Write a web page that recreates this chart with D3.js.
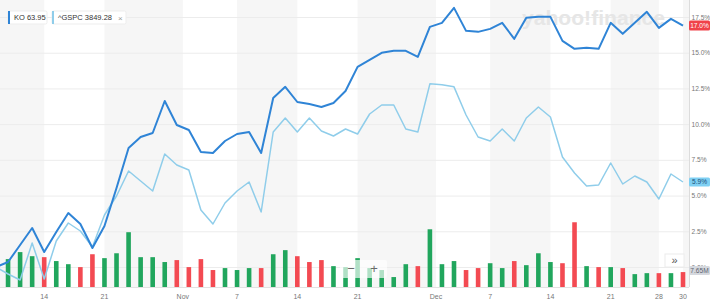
<!DOCTYPE html>
<html>
<head>
<meta charset="utf-8">
<script src="https://cdn.jsdelivr.net/npm/d3@7"></script>
<style>
  html, body { margin: 0; padding: 0; background: #ffffff; }
  #chart-div { width: 710px; height: 306px; }
  text { font-family: "Liberation Sans", Arial, sans-serif; }
</style>
</head>
<body>
<div id="chart-div"></div>
<script>
// Trading days shown (Oct 10 sits just off the left edge)
const dates = [
  "2022-10-10","2022-10-11","2022-10-12","2022-10-13","2022-10-14",
  "2022-10-17","2022-10-18","2022-10-19","2022-10-20","2022-10-21",
  "2022-10-24","2022-10-25","2022-10-26","2022-10-27","2022-10-28",
  "2022-10-31","2022-11-01","2022-11-02","2022-11-03","2022-11-04",
  "2022-11-07","2022-11-08","2022-11-09","2022-11-10","2022-11-11",
  "2022-11-14","2022-11-15","2022-11-16","2022-11-17","2022-11-18",
  "2022-11-21","2022-11-22","2022-11-23","2022-11-25","2022-11-28",
  "2022-11-29","2022-11-30","2022-12-01","2022-12-02","2022-12-05",
  "2022-12-06","2022-12-07","2022-12-08","2022-12-09","2022-12-12",
  "2022-12-13","2022-12-14","2022-12-15","2022-12-16","2022-12-19",
  "2022-12-20","2022-12-21","2022-12-22","2022-12-23","2022-12-27",
  "2022-12-28","2022-12-29","2022-12-30"
];

// % change since start
const koPct = [
  0.0, 0.35, 1.54, 2.73, 1.05, 2.45, 3.78, 3.01, 1.33, 2.87,
  5.53, 8.33, 9.10, 9.38, 11.62, 9.94, 9.59, 8.05, 7.98, 8.82,
  9.31, 9.45, 7.98, 11.83, 12.61, 11.55, 11.41, 11.20, 11.48, 12.32,
  14.01, 14.50, 14.99, 15.13, 15.13, 14.71, 16.81, 17.09, 18.14, 16.53,
  16.46, 16.67, 17.09, 15.97, 17.44, 17.51, 17.51, 15.83, 15.27, 15.34,
  15.27, 17.09, 16.32, 17.09, 17.86, 16.74, 17.37, 16.90
];
const spxPct = [
  0.0, -0.49, -0.91, 1.68, -0.84, 1.82, 3.08, 2.52, 1.40, 3.64,
  4.97, 6.72, 6.02, 5.32, 7.91, 7.14, 6.79, 3.99, 3.01, 4.48,
  5.32, 5.95, 3.85, 9.45, 10.43, 9.45, 10.43, 9.52, 9.17, 9.66,
  9.31, 10.71, 11.34, 11.34, 9.66, 9.45, 12.82, 12.75, 12.61, 10.64,
  9.10, 8.82, 9.66, 8.82, 10.43, 11.20, 10.50, 7.70, 6.58, 5.67,
  5.74, 7.28, 5.81, 6.37, 5.95, 4.76, 6.51, 5.95
];

// KO volume, millions
const koVolume = [
  14.0, 14.3, 17.9, 15.8, 15.3, 13.3, 11.7, 10.2, 16.8, 14.8,
  17.3, 28.1, 15.3, 15.3, 12.8, 13.8, 10.2, 14.3, 8.7, 9.7,
  8.7, 9.7, 9.7, 16.8, 18.9, 15.8, 12.8, 13.8, 10.7, 10.2,
  14.8, 9.7, 8.7, 5.1, 11.7, 10.7, 29.6, 11.7, 13.3, 8.7,
  9.7, 12.2, 9.7, 13.3, 11.2, 17.3, 12.8, 12.2, 33.2, 10.7,
  10.2, 10.2, 9.7, 6.6, 7.1, 7.1, 7.1, 7.65
];

const tickLabels = ["14", "21", "Nov", "7", "14", "21", "Dec", "7", "14", "21", "28", "30"];
const tickDates = ["2022-10-14", "2022-10-21", "2022-11-01", "2022-11-07", "2022-11-14", "2022-11-21",
                   "2022-12-01", "2022-12-07", "2022-12-14", "2022-12-21", "2022-12-28", "2022-12-30"];
const yTicks = [0, 2.5, 5, 7.5, 10, 12.5, 15, 17.5];

const W = 710, H = 306;
const plotRight = 689;   // right axis line
const baseY = 287;       // x-axis baseline

const colKO = '#2f84d6';
const colSPX = '#8fcdea';
const colUp = '#21a65d';
const colDown = '#f34a52';
const textGrey = '#777777';

const svg = d3.select('#chart-div')
  .append('svg')
  .attr('width', W)
  .attr('height', H)
  .style('background-color', '#ffffff');

// Scales: x by trading-day index, y in percent, volume separately
const xScale = d3.scaleLinear()
  .domain([0, dates.length - 1])
  .range([-4, 683]);

const yScale = d3.scaleLinear()
  .domain([0, 17.5])
  .range([267, 17]);

const vScale = d3.scaleLinear()
  .domain([0, 40])
  .range([baseY, baseY - 78]);

// month ticks sit between the last day of one month and the first of the next
const tickPos = tickDates.map((d, i) => {
  const idx = dates.indexOf(d);
  return isNaN(+tickLabels[i]) ? idx - 0.5 : idx;
});

// Alternating shaded bands between ticks
const edges = [-1].concat(tickPos);
const bandData = [];
for (let i = 0; i < edges.length; i += 2) {
  const x0 = i === 0 ? 0 : xScale(edges[i]);
  const x1 = i + 1 < edges.length ? xScale(edges[i + 1]) : plotRight;
  bandData.push({ x0, x1 });
}
svg.selectAll('.band')
  .data(bandData)
  .join('rect')
  .attr('class', 'band')
  .attr('x', d => d.x0)
  .attr('y', 0)
  .attr('width', d => d.x1 - d.x0)
  .attr('height', baseY)
  .attr('fill', '#f6f6f6');

// Horizontal grid
svg.append('g')
  .selectAll('line')
  .data(yTicks)
  .join('line')
  .attr('x1', 0)
  .attr('x2', plotRight)
  .attr('y1', d => yScale(d) + 0.5)
  .attr('y2', d => yScale(d) + 0.5)
  .attr('stroke', '#ececec')
  .attr('stroke-width', 1);

// Watermark
svg.append('text')
  .attr('x', 522)
  .attr('y', 25)
  .attr('textLength', 143)
  .attr('lengthAdjust', 'spacingAndGlyphs')
  .style('font-size', '21px')
  .style('font-weight', 'bold')
  .style('fill', '#e6e6e6')
  .text('yahoo!finance');

// Volume bars
const barW = 4.6;
svg.append('g')
  .selectAll('rect')
  .data(koVolume)
  .join('rect')
  .attr('x', (d, i) => xScale(i) - barW / 2)
  .attr('y', d => vScale(d))
  .attr('width', barW)
  .attr('height', d => baseY - vScale(d))
  .attr('fill', (d, i) => (i > 0 && koPct[i] < koPct[i - 1]) ? colDown : colUp);

// Lines, clipped to the plot
svg.append('clipPath')
  .attr('id', 'plot-clip')
  .append('rect')
  .attr('x', 0).attr('y', 0)
  .attr('width', plotRight).attr('height', baseY);

const line = d3.line()
  .x((d, i) => xScale(i))
  .y(d => yScale(d));

const lines = svg.append('g').attr('clip-path', 'url(#plot-clip)');
lines.append('path')
  .datum(spxPct)
  .attr('d', line)
  .attr('fill', 'none')
  .attr('stroke', colSPX)
  .attr('stroke-width', 1.5)
  .attr('stroke-linejoin', 'round');
lines.append('path')
  .datum(koPct)
  .attr('d', line)
  .attr('fill', 'none')
  .attr('stroke', colKO)
  .attr('stroke-width', 2)
  .attr('stroke-linejoin', 'round');

// Axis lines
svg.append('line')
  .attr('x1', plotRight + 0.5).attr('x2', plotRight + 0.5)
  .attr('y1', 0).attr('y2', baseY)
  .attr('stroke', '#dcdcdc');
svg.append('line')
  .attr('x1', 0).attr('x2', plotRight)
  .attr('y1', baseY + 0.5).attr('y2', baseY + 0.5)
  .attr('stroke', '#e2e2e2');

// X tick labels
svg.append('g')
  .selectAll('text')
  .data(tickLabels)
  .join('text')
  .attr('x', (d, i) => xScale(tickPos[i]))
  .attr('y', 299)
  .attr('text-anchor', 'middle')
  .style('font-size', '7px')
  .style('fill', textGrey)
  .text(d => d);

// Right y labels (0.0% sits behind the volume badge)
svg.append('g')
  .selectAll('text')
  .data(yTicks)
  .join('text')
  .attr('x', 691.5)
  .attr('y', d => yScale(d) + 2.5)
  .style('font-size', '6.6px')
  .style('fill', textGrey)
  .text(d => d.toFixed(1) + '%');

// Last-value badges
const lastI = dates.length - 1;
function badge(yc, w, h, bg, fg, label) {
  svg.append('rect')
    .attr('x', 689).attr('y', yc - h / 2)
    .attr('width', w).attr('height', h)
    .attr('rx', 1.5)
    .attr('fill', bg);
  svg.append('text')
    .attr('x', 689 + w / 2).attr('y', yc + 2.4)
    .attr('text-anchor', 'middle')
    .style('font-size', '6.6px')
    .style('fill', fg)
    .text(label);
}
badge(yScale(koPct[lastI]), 21, 10, '#f0424a', '#ffffff', '17.0%');
badge(yScale(spxPct[lastI]), 21, 9, '#7fd0f3', '#1d4f7a', '5.9%');
badge(vScale(koVolume[lastI]) - 1.5, 21, 9, '#d5d8de', '#5c6370', '7.65M');

// Zoom controls over the volume area
const zoomBox = svg.append('g');
zoomBox.append('rect')
  .attr('x', 340).attr('y', 260)
  .attr('width', 47).attr('height', 18)
  .attr('rx', 2)
  .attr('fill', '#ffffff')
  .attr('fill-opacity', 0.65);
zoomBox.append('text')
  .attr('x', 351).attr('y', 273)
  .attr('text-anchor', 'middle')
  .style('font-size', '13px')
  .style('fill', '#6a6a6a')
  .text('\u2212');
zoomBox.append('text')
  .attr('x', 374).attr('y', 273)
  .attr('text-anchor', 'middle')
  .style('font-size', '13px')
  .style('fill', '#6a6a6a')
  .text('+');

// "»" button
svg.append('rect')
  .attr('x', 665).attr('y', 254)
  .attr('width', 19).attr('height', 13)
  .attr('fill', '#ffffff')
  .attr('stroke', '#ececec');
svg.append('text')
  .attr('x', 674.5).attr('y', 264)
  .attr('text-anchor', 'middle')
  .style('font-size', '11px')
  .style('fill', '#555')
  .text('\u00bb');

// Legend chips
const chips = [
  { label: 'KO 63.95', color: colKO, x: 8, w: 39, close: false },
  { label: '^GSPC 3849.28', color: colSPX, x: 52, w: 74, close: true }
];
const chipG = svg.append('g')
  .selectAll('g')
  .data(chips)
  .join('g')
  .attr('transform', d => `translate(${d.x},11)`);
chipG.append('rect')
  .attr('width', d => d.w)
  .attr('height', 13)
  .attr('rx', 1.5)
  .attr('fill', '#ffffff')
  .attr('stroke', '#ededed');
chipG.append('rect')
  .attr('width', 2)
  .attr('height', 13)
  .attr('fill', d => d.color);
chipG.append('text')
  .attr('x', 6)
  .attr('y', 9.3)
  .style('font-size', '7.5px')
  .style('fill', '#333')
  .text(d => d.label);
chipG.filter(d => d.close)
  .append('text')
  .attr('x', d => d.w - 8)
  .attr('y', 9.5)
  .style('font-size', '8px')
  .style('fill', '#999')
  .text('\u00d7');
</script>
</body>
</html>
